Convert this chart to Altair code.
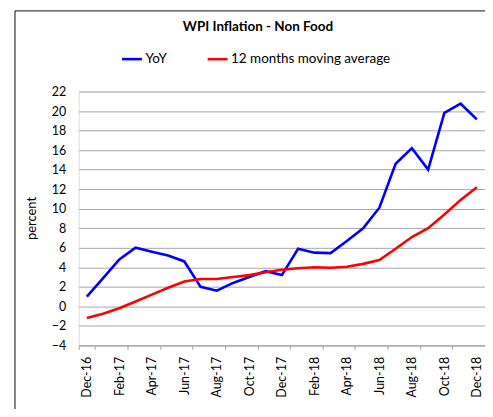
import altair as alt
import pandas as pd

months = ["Dec-16", "Jan-17", "Feb-17", "Mar-17", "Apr-17", "May-17", "Jun-17",
          "Jul-17", "Aug-17", "Sep-17", "Oct-17", "Nov-17", "Dec-17",
          "Jan-18", "Feb-18", "Mar-18", "Apr-18", "May-18", "Jun-18",
          "Jul-18", "Aug-18", "Sep-18", "Oct-18", "Nov-18", "Dec-18"]
yoy = [1.0, 2.9, 4.8, 6.0, 5.6, 5.2, 4.6, 2.0, 1.6, 2.4, 3.0, 3.6, 3.2,
       5.9, 5.5, 5.45, 6.7, 8.0, 10.1, 14.6, 16.2, 14.0, 19.8, 20.75, 19.15]
mavg = [-1.2, -0.75, -0.2, 0.5, 1.2, 1.9, 2.55, 2.8, 2.8, 3.0, 3.2, 3.5, 3.75,
        3.9, 4.0, 3.95, 4.05, 4.35, 4.75, 5.9, 7.1, 8.0, 9.4, 10.9, 12.2]
series = ["YoY", "12 months moving average"]
colors = ["#0000FF", "#FF0000"]
label_months = months[::2]

rows = []
for s, vals in zip(series, [yoy, mavg]):
    for m, v in zip(months, vals):
        rows.append({"month": m, "value": v, "series": s})
df = pd.DataFrame(rows)

FONT = "Lato"

lines = alt.Chart(df).mark_line(strokeWidth=2.6).encode(
    x=alt.X("month:O", sort=months, bandPosition=0.5,
            scale=alt.Scale(type="band", paddingInner=0, paddingOuter=0),
            axis=alt.Axis(title=None, values=label_months, labelAngle=-90,
                          labelAlign="right", labelBaseline="middle",
                          labelPadding=7, tickBand="extent", tickSize=4,
                          tickColor="#a6a6a6", domainColor="#a6a6a6",
                          labelFontSize=12.5, labelColor="#000000",
                          labelFont=FONT, grid=False)),
    y=alt.Y("value:Q",
            scale=alt.Scale(domain=[-4, 22], nice=False, zero=False),
            axis=alt.Axis(values=list(range(-4, 23, 2)), title="percent",
                          domain=False, ticks=False, labelPadding=13,
                          labelFontSize=12.5, labelFont=FONT, labelColor="#000000",
                          gridColor="#a6a6a6", gridWidth=1,
                          titleFont=FONT, titleFontSize=13, titleFontWeight="normal",
                          titleColor="#000000", titleAngle=-90, titleX=-47,
                          titleY=127, titleAlign="center", titleBaseline="middle")),
    color=alt.Color("series:N", sort=series,
                    scale=alt.Scale(domain=series, range=colors),
                    legend=alt.Legend(title=None, orient="none", direction="horizontal",
                                      legendX=42, legendY=-44, symbolType="stroke",
                                      symbolSize=400, symbolStrokeWidth=2.6,
                                      labelFont=FONT, labelFontSize=13.5,
                                      labelColor="#000000", labelOffset=2,
                                      columnPadding=35)),
)

frame_data = alt.Data(values=[{}])
frame_left = alt.Chart(frame_data).mark_rule(color="#404040", strokeWidth=1.3).encode(
    x=alt.value(-64), y=alt.value(-81), y2=alt.value(330))
frame_top = alt.Chart(frame_data).mark_rule(color="#404040", strokeWidth=1.3).encode(
    x=alt.value(-64), x2=alt.value(430), y=alt.value(-81))

chart = alt.layer(frame_left, frame_top, lines).properties(
    width=408, height=255,
    title=alt.TitleParams("WPI Inflation - Non Food", font=FONT, fontSize=13.5,
                          fontWeight="bold", color="#000000", anchor="middle",
                          dx=-24, offset=-23),
    autosize=alt.AutoSizeParams(type="none"),
    padding={"left": 71, "top": 83, "right": 0, "bottom": 63},
).configure_view(stroke=None).configure(background="white")

chart.save("out.html", embed_options={"renderer": "svg", "actions": False})
